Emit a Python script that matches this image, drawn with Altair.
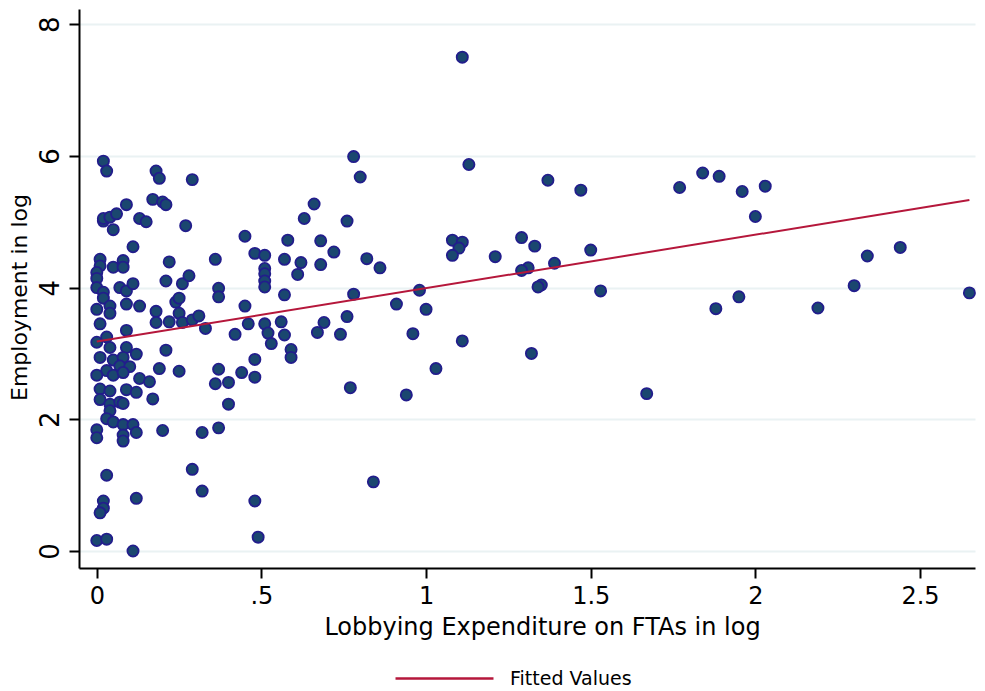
import altair as alt
import pandas as pd

# Scatter data: lobbying expenditure (log) vs employment (log)
lobby = [
    0.02, 0.03, 0.18, 0.19, 0.29, 0.09, 0.17, 0.20, 0.21, 0.02,
    0.02, 0.04, 0.06, 0.13, 0.15, 0.05, 0.27, 0.45, 0.66, 0.63,
    0.11, 0.58, 0.68, 0.01, 0.01, 0.05, 0.08, 0.08, 0.22, 0.36,
    0.48, 0.51, 0.51, 0.51, 0.57, 0.62, 0.61, 0.68, 0.00, 0.00,
    0.00, 0.02, 0.02, 0.07, 0.09, 0.11, 0.21, 0.26, 0.28, 0.37,
    0.37, 0.51, 0.51, 0.57, 0.00, 0.04, 0.04, 0.09, 0.13, 0.18,
    0.18, 0.22, 0.24, 0.25, 0.25, 0.26, 0.29, 0.31, 0.33, 0.45,
    0.46, 0.51, 0.52, 0.56, 0.57, 0.42, 0.01, 0.09, 0.67,
    0.00, 0.03, 0.04, 0.09, 0.12, 0.01, 0.05, 0.08, 0.07, 0.10,
    0.03, 0.00, 0.05, 0.08, 0.13, 0.16, 0.19, 0.21, 0.25, 0.01,
    0.04, 0.09, 0.12, 0.01, 0.04, 0.07, 0.08, 0.04, 0.03, 0.05,
    0.08, 0.11, 0.12, 0.00, 0.00, 0.08, 0.08, 0.17, 0.20, 0.32,
    0.37, 0.29, 0.32, 0.37, 0.36, 0.40, 0.40, 0.44, 0.48, 0.48,
    0.48, 0.49, 0.03, 0.02, 0.02, 0.01, 0.12, 0.00, 0.03, 0.11,
    0.59, 0.59, 0.53,
    0.78, 0.80, 0.76, 1.13, 1.37, 1.47, 0.72, 0.82, 0.86, 1.08,
    1.11, 1.10, 1.08, 1.21, 1.29, 1.33, 1.50, 1.39, 1.31, 1.29,
    1.35, 1.34, 1.53, 0.78, 0.98, 0.91, 1.00, 0.69, 0.76, 0.74,
    0.96, 1.11, 1.32, 1.03, 0.77, 0.94, 0.84, 1.11,
    1.77, 1.84, 1.89, 1.96, 2.03, 2.00, 2.34, 2.44, 2.30, 2.65,
    2.19, 1.95, 1.88, 1.67,
]
employment = [
    5.92, 5.77, 5.77, 5.66, 5.64, 5.26, 5.34, 5.30, 5.26, 5.01,
    5.05, 5.07, 5.12, 5.05, 5.00, 4.88, 4.94, 4.78, 5.27, 5.05,
    4.62, 4.72, 4.71, 4.43, 4.33, 4.31, 4.41, 4.31, 4.39, 4.43,
    4.52, 4.49, 4.29, 4.21, 4.43, 4.38, 4.20, 4.35, 4.23, 4.14,
    4.00, 3.93, 3.84, 4.00, 3.95, 4.06, 4.10, 4.06, 4.18, 3.99,
    3.86, 4.10, 4.01, 3.89, 3.67, 3.72, 3.61, 3.75, 3.72, 3.64,
    3.47, 3.48, 3.78, 3.84, 3.61, 3.47, 3.51, 3.57, 3.38, 3.72,
    3.45, 3.45, 3.31, 3.48, 3.28, 3.29, 3.45, 3.35, 3.32,
    3.17, 3.25, 3.09, 3.09, 2.99, 2.94, 2.90, 2.94, 2.81, 2.80,
    2.74, 2.67, 2.67, 2.71, 2.62, 2.57, 2.77, 3.05, 2.73, 2.46,
    2.43, 2.45, 2.41, 2.30, 2.23, 2.26, 2.24, 2.13, 2.01, 1.96,
    1.92, 1.92, 1.80, 1.84, 1.72, 1.76, 1.67, 2.31, 1.83, 1.80,
    1.87, 1.24, 0.91, 2.76, 2.54, 2.56, 2.23, 2.71, 2.91, 2.64,
    0.76, 0.21, 1.15, 0.76, 0.65, 0.58, 0.80, 0.16, 0.18, 0.00,
    3.06, 2.94, 3.15,
    5.99, 5.68, 5.01, 5.87, 5.63, 5.48, 4.54, 4.44, 4.30, 4.72,
    4.69, 4.60, 4.49, 4.47, 4.76, 4.63, 4.57, 4.37, 4.30, 4.26,
    4.04, 4.01, 3.95, 3.90, 3.96, 3.75, 3.67, 3.47, 3.56, 3.29,
    3.30, 3.19, 3.00, 2.77, 2.48, 2.37, 1.05, 7.50,
    5.52, 5.74, 5.69, 5.46, 5.54, 5.08, 4.48, 4.61, 4.03, 3.92,
    3.69, 3.86, 3.68, 2.39,
]

# Fitted values line (end points)
fit_x = [0.0, 2.65]
fit_y = [3.18, 5.33]
fit_label = "Fitted Values"

x_tick_values = [0, 0.5, 1, 1.5, 2, 2.5]
x_tick_labels = ["0", ".5", "1", "1.5", "2", "2.5"]
y_tick_values = [0, 2, 4, 6, 8]

df = pd.DataFrame({"x": lobby, "y": employment})
fit_df = pd.DataFrame({"x": fit_x, "y": fit_y, "series": [fit_label] * len(fit_x)})

label_expr = " : ".join(
    f"datum.value == {v} ? '{l}'" for v, l in zip(x_tick_values, x_tick_labels)
) + " : ''"

FONT = "DejaVu Sans"
NAVY = "#1a476f"
EDGE = "#221d8c"
RED = "#b5173b"

x_scale = alt.Scale(domain=[-0.054, 2.667], nice=False, zero=False)
y_scale = alt.Scale(domain=[-0.258, 8.231], nice=False, zero=False)

x_axis = alt.Axis(
    values=x_tick_values, labelExpr=label_expr,
    title="Lobbying Expenditure on FTAs in log",
    grid=False, tickSize=10, tickWidth=2, tickColor="black",
    domainColor="black", domainWidth=2,
    labelFont=FONT, labelFontSize=24, labelColor="black", labelPadding=6,
    labelFlush=False, labelOverlap=False,
    titleFont=FONT, titleFontSize=24, titleFontWeight="normal", titleColor="black",
    titlePadding=7, titleX=463,
)
y_axis = alt.Axis(
    values=y_tick_values, format="d", title="Employment in log",
    grid=True, gridColor="#eaf2f3", gridWidth=2,
    tickSize=10, tickWidth=2, tickColor="black",
    domainColor="black", domainWidth=2,
    labelFont=FONT, labelFontSize=26, labelColor="black",
    labelAngle=270, labelAlign="center", labelBaseline="alphabetic",
    labelPadding=11, labelFlush=False, labelOverlap=False,
    titleFont=FONT, titleFontSize=22, titleFontWeight="normal", titleColor="black",
    titlePadding=6, titleY=288,
)

points = alt.Chart(df).mark_circle(
    size=125, fill=NAVY, stroke=EDGE, strokeWidth=1.8, opacity=1, fillOpacity=1
).encode(
    x=alt.X("x:Q", scale=x_scale, axis=x_axis),
    y=alt.Y("y:Q", scale=y_scale, axis=y_axis),
)

line = alt.Chart(fit_df).mark_line(strokeWidth=2).encode(
    x=alt.X("x:Q", scale=x_scale),
    y=alt.Y("y:Q", scale=y_scale),
    color=alt.Color(
        "series:N",
        scale=alt.Scale(domain=[fit_label], range=[RED]),
        legend=alt.Legend(
            title=None, orient="none", legendX=315, legendY=619,
            direction="horizontal", symbolType="stroke", symbolSize=9600,
            symbolStrokeWidth=2.5, labelFont=FONT, labelFontSize=19,
            labelColor="black", labelOffset=15, padding=0,
        ),
    ),
)

chart = alt.layer(points, line).properties(
    width=896, height=559,
    autosize=alt.AutoSizeParams(type="none"),
    padding={"left": 71, "top": 1, "right": 2, "bottom": 121},
    background="white",
).configure_view(stroke=None)

chart.save("out.html", embed_options={"renderer": "svg", "actions": False})
